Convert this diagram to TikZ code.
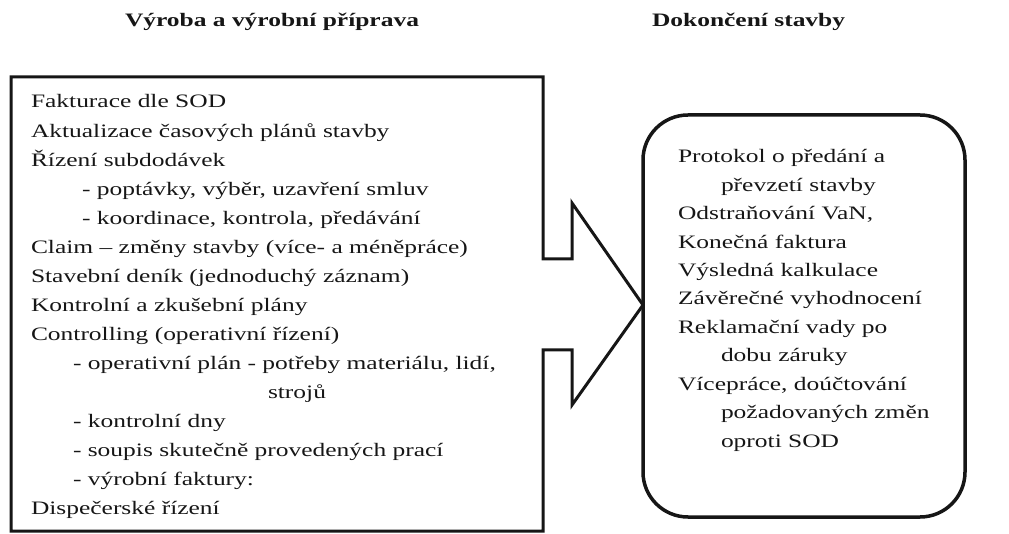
\documentclass[tikz,border=0pt]{standalone}
\usepackage{fontspec}
\setmainfont{Liberation Serif}[FakeStretch=1.34]
\definecolor{ink}{HTML}{161616}
\tikzset{
  txt/.style={anchor=base west, inner sep=0pt, outer sep=0pt, text=ink, font=\fontsize{19}{23}\selectfont},
  ttl/.style={anchor=base west, inner sep=0pt, outer sep=0pt, text=ink, font=\fontsize{19}{23}\selectfont\bfseries},
  outline/.style={draw=ink, line width=3pt, line join=miter},
}
\begin{document}
\begin{tikzpicture}[x=1pt,y=-1pt]
\useasboundingbox (0,0) rectangle (1009,534);
% titles
\node[ttl] (t1) at (125,27) {Výroba a výrobní příprava};
\node[ttl] (t2) at (652,27) {Dokončení stavby};
% left box with arrow
\draw[outline] (11,77) -- (543,77) -- (543,259) -- (572,259) -- (572,203) -- (643,305)
  -- (572,405) -- (572,350) -- (543,350) -- (543,531) -- (11,531) -- cycle;
% right rounded box
\draw[outline, line width=3.5pt, rounded corners=45pt] (643,115) rectangle (965,517);
% left text
\foreach \i/\xx/\t in {
  0/31/{Fakturace dle SOD},
  1/31/{Aktualizace časových plánů stavby},
  2/31/{Řízení subdodávek},
  3/82/{- poptávky, výběr, uzavření smluv},
  4/82/{- koordinace, kontrola, předávání},
  5/31/{Claim – změny stavby (více- a méněpráce)},
  6/31/{Stavební deník (jednoduchý záznam)},
  7/31/{Kontrolní a zkušební plány},
  8/31/{Controlling (operativní řízení)},
  9/73/{- operativní plán - potřeby materiálu, lidí,},
  10/268/{strojů},
  11/73/{- kontrolní dny},
  12/73/{- soupis skutečně provedených prací},
  13/73/{- výrobní faktury:},
  14/31/{Dispečerské řízení}}
  {\node[txt] (L\i) at (\xx,108+29.07*\i) {\t};}
% right text
\foreach \i/\xx/\t in {
  0/678/{Protokol o předání a},
  1/721/{převzetí stavby},
  2/678/{Odstraňování VaN,},
  3/678/{Konečná faktura},
  4/678/{Výsledná kalkulace},
  5/678/{Závěrečné vyhodnocení},
  6/678/{Reklamační vady po},
  7/721/{dobu záruky},
  8/678/{Vícepráce, doúčtování},
  9/721/{požadovaných změn},
  10/721/{oproti SOD}}
  {\node[txt] (R\i) at (\xx,163+28.4*\i) {\t};}
\end{tikzpicture}
\end{document}
